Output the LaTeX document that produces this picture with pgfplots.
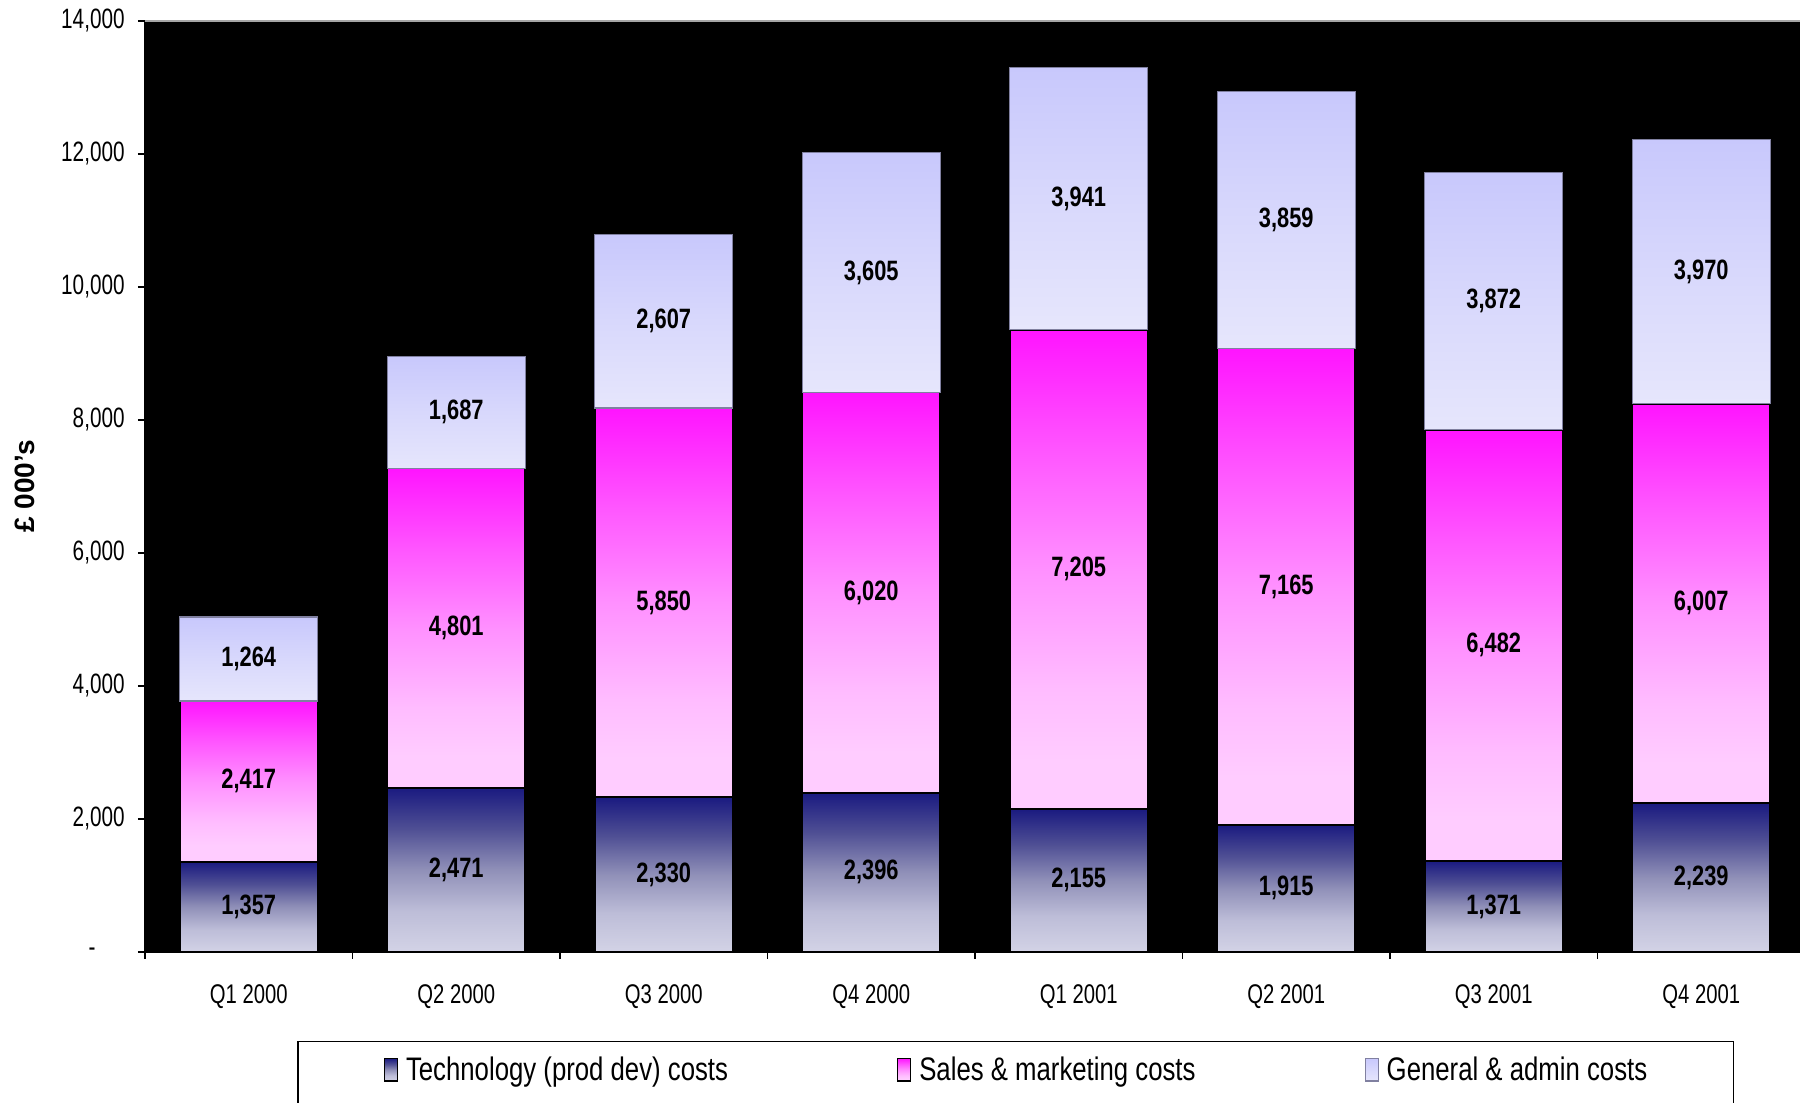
\documentclass[border=0pt]{standalone}
\usepackage{pgfplots}
\pgfplotsset{compat=1.18}
\usepackage{pgfplotstable}
\usepackage{fontspec}
\setmainfont{Liberation Sans}
\newfontfamily\tickfont[FakeStretch=0.74]{Liberation Sans}
\newfontfamily\catfont[FakeStretch=0.75]{Liberation Sans}
\newfontfamily\barfont[FakeStretch=0.78]{Liberation Sans}
\newfontfamily\legfont[FakeStretch=0.79]{Liberation Sans}

% gradient colours, bottom to top
\definecolor{techA}{HTML}{D3D3E6}
\definecolor{techB}{HTML}{BDBDD8}
\definecolor{techC}{HTML}{9090B8}
\definecolor{techD}{HTML}{4F4F94}
\definecolor{techE}{HTML}{1A1A80}
\definecolor{salesA}{HTML}{FFCCFF}
\definecolor{salesB}{HTML}{FFBCFF}
\definecolor{salesC}{HTML}{FF90FF}
\definecolor{salesD}{HTML}{FF55FF}
\definecolor{salesE}{HTML}{FF14FF}
\definecolor{genA}{HTML}{E6E6FC}
\definecolor{genB}{HTML}{D8D8FC}
\definecolor{genC}{HTML}{C8C8FC}
\definecolor{genedge}{HTML}{8080A0}

\pgfdeclareverticalshading{techshade}{100bp}{color(0bp)=(techA); color(25bp)=(techA); color(37.5bp)=(techB); color(50bp)=(techC); color(62.5bp)=(techD); color(75bp)=(techE); color(100bp)=(techE)}
\pgfdeclareverticalshading{salesshade}{100bp}{color(0bp)=(salesA); color(25bp)=(salesA); color(30bp)=(salesA); color(37.5bp)=(salesB); color(50bp)=(salesC); color(62.5bp)=(salesD); color(75bp)=(salesE); color(100bp)=(salesE)}
\pgfdeclareverticalshading{genshade}{100bp}{color(0bp)=(genA); color(25bp)=(genA); color(50bp)=(genB); color(75bp)=(genC); color(100bp)=(genC)}

% quarterly costs, GBP thousands
\pgfplotstableread{
x tech sales gen
0 1357 2417 1264
1 2471 4801 1687
2 2330 5850 2607
3 2396 6020 3605
4 2155 7205 3941
5 1915 7165 3859
6 1371 6482 3872
7 2239 6007 3970
}\costs
% segment boundaries and label heights (middle of each segment)
\pgfplotstablecreatecol[expr={\thisrow{tech}+\thisrow{sales}}]{ctop}\costs
\pgfplotstablecreatecol[expr={\thisrow{tech}+\thisrow{sales}+\thisrow{gen}}]{gtop}\costs
\pgfplotstablecreatecol[expr={\thisrow{tech}/2}]{tmid}\costs
\pgfplotstablecreatecol[expr={\thisrow{tech}+\thisrow{sales}/2}]{smid}\costs
\pgfplotstablecreatecol[expr={\thisrow{tech}+\thisrow{sales}+\thisrow{gen}/2}]{gmid}\costs

\pgfplotsset{
  costframe/.style={
    at={(72.5pt,75.5pt)}, anchor=south west,
    scale only axis, width=830pt, height=465.5pt,
    xmin=-0.5, xmax=7.5, ymin=0, ymax=14000,
  },
  boxlegend/.style={
    legend image code/.code={\draw[##1, line width=0.6pt] (0pt,0pt) rectangle (6.5pt,11.25pt);}
  },
  techbar/.style={shade, shading=techshade, draw=black, line width=1pt, boxlegend},
  salesbar/.style={shade, shading=salesshade, draw=black, line width=1pt, boxlegend},
  genbar/.style={shade, shading=genshade, draw=genedge, line width=0.6pt, boxlegend},
  valuelabels/.style={
    draw=none, point meta=explicit,
    nodes near coords={\pgfmathprintnumber[assume math mode=true,1000 sep={,}]{\pgfplotspointmeta}},
    every node near coord/.style={anchor=center, text=black, inner sep=0pt,
      font=\barfont\bfseries\fontsize{14pt}{16pt}\selectfont},
  },
}

% one stacked column (three shaded segments) for table row #1;
% each segment is its own path so that its gradient spans just that segment
\newcommand\drawcolumn[2]{%
  \pgfplotstablegetelem{#1}{x}\of\costs
  \pgfmathsetmacro\xl{\pgfplotsretval-0.3325}%
  \pgfmathsetmacro\xr{\pgfplotsretval+0.3325}%
  \pgfplotstablegetelem{#1}{tech}\of\costs \let\ya\pgfplotsretval
  \pgfplotstablegetelem{#1}{ctop}\of\costs \let\yb\pgfplotsretval
  \pgfplotstablegetelem{#1}{gtop}\of\costs \let\yc\pgfplotsretval
  \edef\docolumn{%
    \noexpand\addplot[techbar,#2] coordinates {(\xl,0) (\xr,0) (\xr,\ya) (\xl,\ya)} -- cycle;
    \noexpand\addplot[salesbar,#2] coordinates {(\xl,\ya) (\xr,\ya) (\xr,\yb) (\xl,\yb)} -- cycle;
    \noexpand\addplot[genbar,#2] coordinates {(\xl,\yb) (\xr,\yb) (\xr,\yc) (\xl,\yc)} -- cycle;
  }\docolumn
}

\begin{document}
\begin{tikzpicture}
\useasboundingbox (0,0) rectangle (900pt,551.5pt);
\begin{axis}[
  costframe,
  axis background/.style={fill=black},
  axis x line*=bottom, axis y line*=left,
  axis line style={black, line width=0.9pt},
  after end axis/.code={\draw[gray!70, line width=1pt] (rel axis cs:0,1) -- (rel axis cs:1,1);},
  tick align=outside,
  major tick length=3.5pt,
  tick style={black, line width=0.8pt},
  ytick={0,2000,...,14000},
  yticklabels={{-\hspace*{14.5pt}},{2,000},{4,000},{6,000},{8,000},{10,000},{12,000},{14,000}},
  yticklabel style={font=\tickfont\fontsize{14pt}{16pt}\selectfont, anchor=east, inner sep=0pt, xshift=-6.5pt},
  xtick={-0.5,0.5,...,7.5},
  xticklabels={},
  extra x ticks={0,1,...,7},
  extra x tick labels={Q1 2000,Q2 2000,Q3 2000,Q4 2000,Q1 2001,Q2 2001,Q3 2001,Q4 2001},
  extra x tick style={major tick length=0pt, tick style={draw=none},
    xticklabel style={font=\catfont\fontsize{13.5pt}{15pt}\selectfont, anchor=north, inner sep=0pt, yshift=-16pt}},
  ylabel={\bfseries £ 000's},
  every axis y label/.style={at={(axis description cs:-0.0723,0.5)}, rotate=90, anchor=center,
    font=\fontsize{14pt}{16pt}\selectfont},
  legend columns=3,
  legend style={
    at={(0.0916,-0.0956)}, anchor=north west,
    draw=black, line width=0.75pt,
    inner xsep=43pt, inner ysep=7.8pt,
    font=\legfont\fontsize{16.3pt}{18pt}\selectfont,
    cells={anchor=base west},
    nodes={inner sep=0pt, text depth=30pt},
    /tikz/every odd column/.append style={column sep=4pt},
    /tikz/every even column/.append style={column sep=84.5pt},
  },
]
\drawcolumn{0}{}
\drawcolumn{1}{forget plot}
\drawcolumn{2}{forget plot}
\drawcolumn{3}{forget plot}
\drawcolumn{4}{forget plot}
\drawcolumn{5}{forget plot}
\drawcolumn{6}{forget plot}
\drawcolumn{7}{forget plot}
\legend{Technology (prod dev) costs, Sales \& marketing costs, General \& admin costs}
\end{axis}

% segment value labels
\begin{axis}[costframe, hide axis, clip=false]
\addplot[valuelabels] table[x=x, y=tmid, meta=tech]{\costs};
\addplot[valuelabels] table[x=x, y=smid, meta=sales]{\costs};
\addplot[valuelabels] table[x=x, y=gmid, meta=gen]{\costs};
\end{axis}
\end{tikzpicture}
\end{document}
